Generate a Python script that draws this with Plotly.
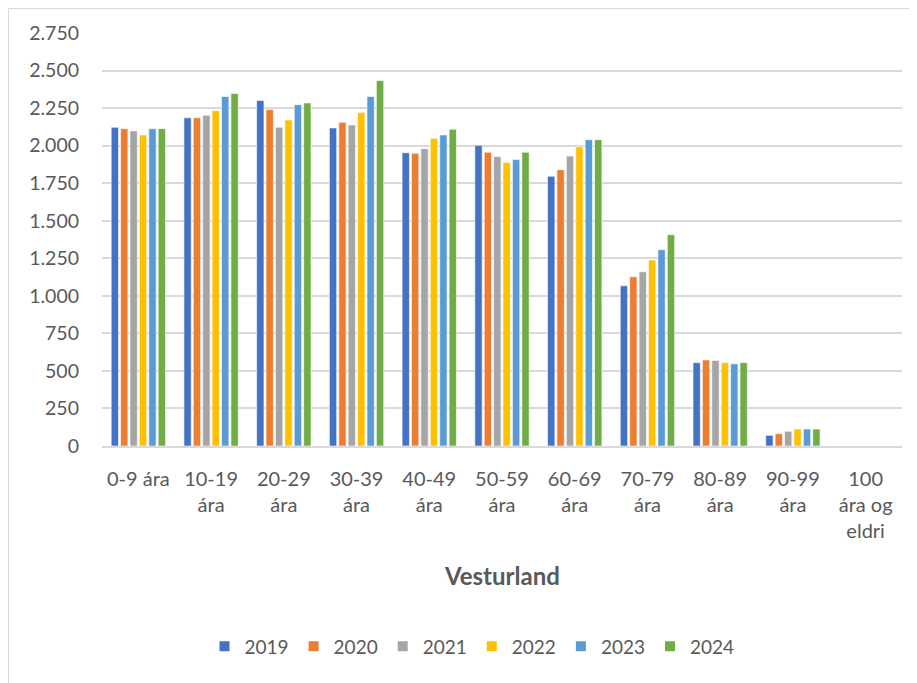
import plotly.graph_objects as go

categories = ["0-9 ára", "10-19<br>ára", "20-29<br>ára", "30-39<br>ára", "40-49<br>ára",
              "50-59<br>ára", "60-69<br>ára", "70-79<br>ára", "80-89<br>ára", "90-99<br>ára",
              "100<br>ára og<br>eldri"]
years = ["2019", "2020", "2021", "2022", "2023", "2024"]
v2019 = [2122, 2185, 2300, 2118, 1953, 2002, 1796, 1067, 555, 71, 0]
v2020 = [2113, 2185, 2240, 2155, 1949, 1956, 1840, 1127, 573, 82, 0]
v2021 = [2098, 2202, 2122, 2138, 1980, 1927, 1931, 1160, 569, 98, 0]
v2022 = [2071, 2233, 2171, 2220, 2049, 1887, 1993, 1238, 555, 113, 0]
v2023 = [2113, 2327, 2273, 2327, 2071, 1907, 2040, 1307, 547, 113, 0]
v2024 = [2113, 2347, 2284, 2433, 2109, 1956, 2040, 1407, 555, 113, 0]
series = [v2019, v2020, v2021, v2022, v2023, v2024]
colors = ["#4472C4", "#ED7D31", "#A5A5A5", "#FFC000", "#5B9BD5", "#70AD47"]
tickvals = list(range(0, 2751, 250))

FONT = "Lato, 'Open Sans', sans-serif"
TXT = "#595959"

fig = go.Figure()
for y, vals, c in zip(years, series, colors):
    fig.add_trace(go.Bar(x=categories, y=vals, name=y, marker=dict(color=c, line=dict(color="white", width=0.6))))

# page is rendered with an 8px body margin; positions below are in figure coordinates
W, H = 917, 683
L, T = 94, 25
pw, ph = 800, 413.4
R = W - L - pw
B = H - T - ph

def px(x):
    return (x - L) / pw

def py(y):
    return (H - B - y) / ph

fig.update_layout(
    width=W, height=H,
    margin=dict(l=L, r=R, t=T, b=B, pad=0),
    paper_bgcolor="white", plot_bgcolor="white",
    separators=",.",
    barmode="group", bargap=0.224, bargroupgap=0.22,
    font=dict(family=FONT, size=19, color=TXT),
    showlegend=True,
    legend=dict(orientation="h", x=0.4625, xanchor="center", y=py(639), yanchor="middle",
                font=dict(size=19, color=TXT), traceorder="normal",
                tracegroupgap=0, itemsizing="constant"),
    xaxis=dict(showgrid=False, showline=True, linecolor="#D9D9D9", linewidth=1.5,
               ticks="", tickfont=dict(size=20, color=TXT), tickangle=0, fixedrange=True,
               ticklabelstandoff=14),
    yaxis=dict(range=[0, 2750], tickvals=tickvals, tickformat=",.0f", showgrid=True,
               gridcolor="#D9D9D9", gridwidth=1.5, zeroline=False, showline=False,
               ticks="", tickfont=dict(size=19.5, color=TXT), ticklabelstandoff=22),
    annotations=[dict(text="<b>Vesturland</b>", xref="paper", yref="paper", x=0.5, y=py(568),
                      xanchor="center", yanchor="middle", showarrow=False,
                      font=dict(size=24, color=TXT, family=FONT))],
    shapes=[dict(type="rect", xref="paper", yref="paper", x0=px(0.5), x1=px(930), y0=py(700), y1=py(0.5),
                 line=dict(color="#D9D9D9", width=1), layer="below")],
)
fig.write_html("out.html")
